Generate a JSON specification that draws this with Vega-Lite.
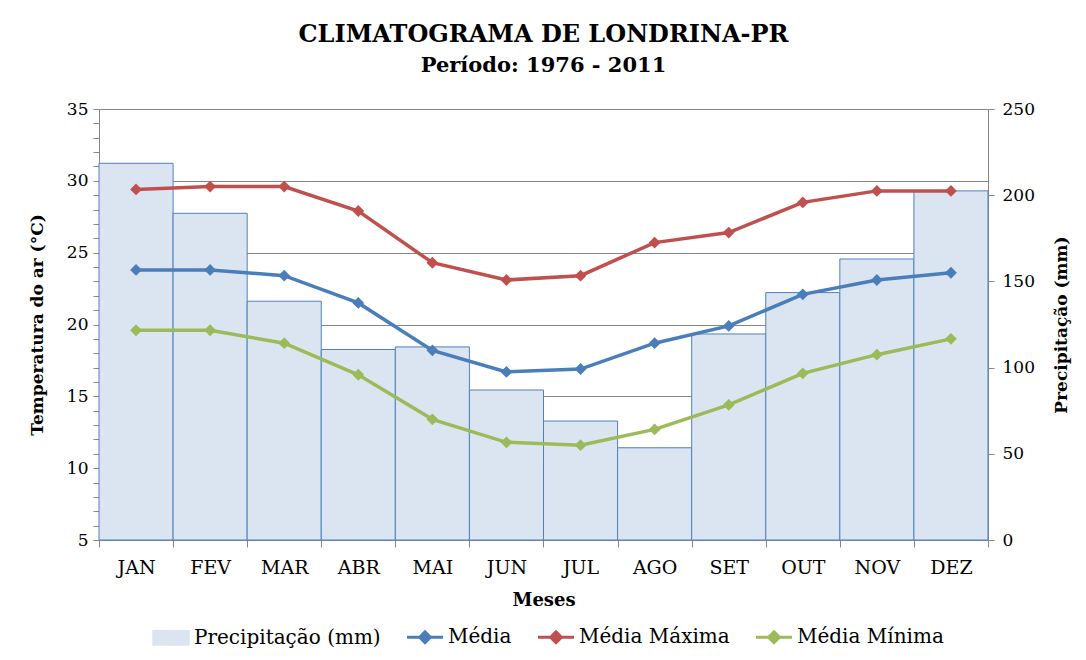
{
  "$schema": "https://vega.github.io/schema/vega-lite/v6.json",
  "width": 889,
  "height": 431,
  "autosize": {"type": "none"},
  "padding": {"left": 99, "top": 109, "right": 98, "bottom": 120},
  "background": "white",
  "title": {
    "text": "CLIMATOGRAMA DE LONDRINA-PR",
    "subtitle": "Período: 1976 - 2011",
    "font": "DejaVu Serif",
    "fontSize": 24,
    "fontWeight": "bold",
    "color": "black",
    "subtitleFont": "DejaVu Serif",
    "subtitleFontSize": 21,
    "subtitleFontWeight": "bold",
    "subtitleColor": "black",
    "subtitlePadding": 8,
    "anchor": "middle",
    "offset": 24
  },
  "datasets": {
    "clima": [
      {"mes": "JAN", "prec": 218.5, "Média": 23.8, "Média Máxima": 29.4, "Média Mínima": 19.6},
      {"mes": "FEV", "prec": 189.5, "Média": 23.8, "Média Máxima": 29.6, "Média Mínima": 19.6},
      {"mes": "MAR", "prec": 138.5, "Média": 23.4, "Média Máxima": 29.6, "Média Mínima": 18.7},
      {"mes": "ABR", "prec": 110.5, "Média": 21.5, "Média Máxima": 27.9, "Média Mínima": 16.5},
      {"mes": "MAI", "prec": 112.0, "Média": 18.2, "Média Máxima": 24.3, "Média Mínima": 13.4},
      {"mes": "JUN", "prec": 87.0, "Média": 16.7, "Média Máxima": 23.1, "Média Mínima": 11.8},
      {"mes": "JUL", "prec": 69.0, "Média": 16.9, "Média Máxima": 23.4, "Média Mínima": 11.6},
      {"mes": "AGO", "prec": 53.5, "Média": 18.7, "Média Máxima": 25.7, "Média Mínima": 12.7},
      {"mes": "SET", "prec": 119.5, "Média": 19.9, "Média Máxima": 26.4, "Média Mínima": 14.4},
      {"mes": "OUT", "prec": 143.5, "Média": 22.1, "Média Máxima": 28.5, "Média Mínima": 16.6},
      {"mes": "NOV", "prec": 163.0, "Média": 23.1, "Média Máxima": 29.3, "Média Mínima": 17.9},
      {"mes": "DEZ", "prec": 202.5, "Média": 23.6, "Média Máxima": 29.3, "Média Mínima": 19.0}
    ]
  },
  "data": {"name": "clima"},
  "encoding": {
    "x": {
      "field": "mes",
      "type": "nominal",
      "sort": null,
      "scale": {"paddingInner": 0, "paddingOuter": 0},
      "axis": {
        "title": "Meses",
        "titleFontSize": 18,
        "labelAngle": 0,
        "labelFontSize": 19,
        "tickBand": "extent",
        "tickSize": 7,
        "labelPadding": 11,
        "titlePadding": 14
      }
    }
  },
  "layer": [
    {
      "mark": {"type": "bar", "stroke": "#4f81bd", "strokeWidth": 1},
      "encoding": {
        "y": {
          "field": "prec",
          "type": "quantitative",
          "scale": {"domain": [0, 250], "nice": false},
          "axis": {
            "orient": "right",
            "title": "Precipitação (mm)",
            "values": [0, 50, 100, 150, 200, 250],
            "grid": false,
            "titleAngle": 270,
            "titlePadding": 36,
            "labelPadding": 8
          }
        },
        "color": {
          "datum": "Precipitação (mm)",
          "title": null,
          "scale": {
            "domain": ["Precipitação (mm)", "Média", "Média Máxima", "Média Mínima"],
            "range": ["#dbe5f1", "#4a7ebb", "#c0504d", "#9bbb59"]
          },
          "legend": {
            "orient": "none",
            "legendX": 62,
            "legendY": 518,
            "direction": "horizontal",
            "title": null,
            "symbolSize": 1296,
            "columnPadding": 20,
            "labelOffset": 13,
            "labelLimit": 400,
            "encode": {
              "symbols": {
                "update": {
                  "shape": {"signal": "datum.value === 'Precipitação (mm)' ? 'M-1,-0.4H1V0.4H-1Z' : 'M-1,0H1M-0.3,0L0,-0.3L0.3,0L0,0.3Z'"},
                  "fill": {"signal": "datum.value === 'Precipitação (mm)' ? '#dbe5f1' : datum.value === 'Média' ? '#4a7ebb' : datum.value === 'Média Máxima' ? '#c0504d' : '#9bbb59'"},
                  "stroke": {"signal": "datum.value === 'Precipitação (mm)' ? '#4f81bd' : datum.value === 'Média' ? '#4a7ebb' : datum.value === 'Média Máxima' ? '#c0504d' : '#9bbb59'"},
                  "strokeWidth": {"signal": "datum.value === 'Precipitação (mm)' ? 1.5 : 3"},
                  "opacity": {"value": 1}
                }
              }
            }
          }
        }
      }
    },
    {
      "transform": [
        {"fold": ["Média", "Média Máxima", "Média Mínima"], "as": ["serie", "temp"]}
      ],
      "mark": {
        "type": "line",
        "strokeWidth": 3.5,
        "point": {"shape": "diamond", "size": 140, "filled": true, "opacity": 1}
      },
      "encoding": {
        "y": {
          "field": "temp",
          "type": "quantitative",
          "scale": {"domain": [5, 35], "nice": false, "zero": false},
          "axis": {
            "orient": "left",
            "title": "Temperatura do ar (°C)",
            "values": [5, 6, 7, 8, 9, 10, 11, 12, 13, 14, 15, 16, 17, 18, 19, 20, 21, 22, 23, 24, 25, 26, 27, 28, 29, 30, 31, 32, 33, 34, 35],
            "labelExpr": "datum.value % 5 === 0 ? datum.label : ''",
            "gridOpacity": {"condition": {"test": "datum.value % 5 === 0", "value": 1}, "value": 0},
            "grid": true,
            "titlePadding": 20,
            "labelPadding": 5
          }
        },
        "color": {
          "field": "serie",
          "type": "nominal",
          "title": null,
          "legend": {
            "orient": "none",
            "legendX": 62,
            "legendY": 518,
            "direction": "horizontal",
            "title": null,
            "symbolSize": 1296,
            "columnPadding": 20,
            "labelOffset": 13,
            "labelLimit": 400,
            "encode": {
              "symbols": {
                "update": {
                  "shape": {"signal": "datum.value === 'Precipitação (mm)' ? 'M-1,-0.4H1V0.4H-1Z' : 'M-1,0H1M-0.3,0L0,-0.3L0.3,0L0,0.3Z'"},
                  "fill": {"signal": "datum.value === 'Precipitação (mm)' ? '#dbe5f1' : datum.value === 'Média' ? '#4a7ebb' : datum.value === 'Média Máxima' ? '#c0504d' : '#9bbb59'"},
                  "stroke": {"signal": "datum.value === 'Precipitação (mm)' ? '#4f81bd' : datum.value === 'Média' ? '#4a7ebb' : datum.value === 'Média Máxima' ? '#c0504d' : '#9bbb59'"},
                  "strokeWidth": {"signal": "datum.value === 'Precipitação (mm)' ? 1.5 : 3"},
                  "opacity": {"value": 1}
                }
              }
            }
          }
        },
        "detail": {"field": "serie"}
      }
    }
  ],
  "resolve": {"scale": {"y": "independent"}},
  "config": {
    "view": {"stroke": null},
    "font": "DejaVu Serif",
    "axis": {
      "labelFont": "DejaVu Serif",
      "labelFontSize": 17,
      "labelColor": "black",
      "titleFont": "DejaVu Serif",
      "titleFontSize": 17,
      "titleFontWeight": "bold",
      "titleColor": "black",
      "domainColor": "#868686",
      "tickColor": "#868686",
      "gridColor": "#868686",
      "gridWidth": 1.2,
      "tickSize": 6
    },
    "legend": {
      "labelFont": "DejaVu Serif",
      "labelFontSize": 20,
      "labelColor": "black"
    }
  }
}
